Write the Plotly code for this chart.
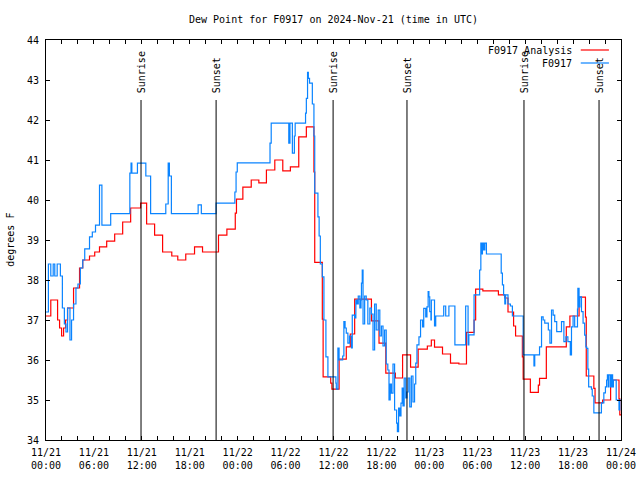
import pandas as pd
import plotly.graph_objects as go

START = pd.Timestamp("2024-11-21 00:00")

# F0917 Analysis (red) -- hours since 11/21 00:00 UTC, degrees F
red_hours = [0.0, 0.6, 1.45, 1.7, 1.95, 2.2, 2.45, 2.7, 3.45, 4.2, 4.6, 5.45, 6.1, 6.7, 7.6, 8.6, 9.6, 10.6,
             11.85, 12.6, 13.6, 14.6, 15.75, 16.5, 17.5, 18.6, 19.6, 21.6, 22.65, 23.7, 23.85, 24.65, 25.7,
             26.65, 27.6, 28.65, 29.65, 30.6, 31.65, 32.6, 33.55, 33.65, 34.6, 34.7, 35.65, 35.8, 36.7, 37.6,
             38.1, 38.65, 40.75, 41.7, 42.55, 43.75, 44.65, 45.65, 46.6, 47.75, 48.25, 48.65, 49.65, 50.65,
             51.7, 52.65, 53.6, 53.8, 54.7, 56.65, 57.45, 57.85, 58.55, 58.8, 59.65, 59.75, 60.65, 61.65,
             61.8, 62.65, 65.15, 65.6, 66.75, 67.55, 67.65, 68.6, 68.75, 69.7, 70.7, 71.75, 71.85, 72.0]
red_values = [37.1, 37.5, 37.0, 36.8, 36.6, 36.8, 37.0, 37.3, 37.8, 38.3, 38.5, 38.6, 38.7, 38.83, 38.97, 39.15,
              39.45, 39.8, 39.92, 39.4, 39.12, 38.7, 38.6, 38.5, 38.65, 38.83, 38.7, 39.12, 39.27, 39.67, 40.02,
              40.32, 40.5, 40.43, 40.75, 41.0, 40.73, 40.83, 41.58, 41.83, 40.7, 38.44, 37.02, 35.58, 35.42,
              35.27, 36.02, 36.33, 36.65, 37.52, 36.98, 36.42, 35.67, 35.55, 36.13, 35.82, 36.27, 36.35, 36.5,
              36.32, 36.15, 35.92, 35.9, 36.69, 37.0, 37.77, 37.73, 37.63, 37.55, 37.2, 36.85, 36.6, 36.08,
              35.52, 35.19, 35.37, 35.54, 36.33, 36.83, 37.1, 37.57, 37.07, 35.6, 35.29, 34.93, 35.0, 35.5,
              35.03, 34.63, 34.63]

# F0917 observations (blue)
blue_hours = [0.0, 0.3, 0.6, 0.9, 1.1, 1.4, 1.8, 2.05, 2.3, 2.5, 2.7, 3.0, 3.2, 3.45, 3.75, 4.0, 4.3, 4.6,
              4.85, 5.45, 5.8, 6.2, 6.7, 7.0, 8.1, 10.5, 10.65, 10.75, 11.45, 12.5, 13.1, 15.0, 15.3, 15.45,
              15.7, 19.05, 19.45, 21.3, 23.65, 23.8, 23.95, 28.05, 28.2, 30.4, 30.55, 30.85, 31.1, 31.2,
              32.5, 32.6, 32.75, 32.85, 33.0, 33.35, 33.55, 33.65, 34.05, 34.2, 34.35, 34.6, 34.8, 35.05,
              35.3, 36.3, 36.35, 36.55, 36.7, 37.15, 37.3, 37.45, 37.6, 37.8, 38.0, 38.25, 38.35, 38.65,
              38.8, 38.95, 39.1, 39.3, 39.45, 39.5, 39.6, 39.7, 39.9, 40.1, 40.3, 40.55, 40.75, 40.95,
              41.15, 41.35, 41.6, 41.8, 42.0, 42.2, 42.4, 42.6, 42.8, 42.95, 43.1, 43.25, 43.45, 43.65,
              43.9, 44.0, 44.15, 44.3, 44.45, 44.6, 44.7, 44.85, 45.05, 45.2, 45.35, 45.55, 45.75, 45.95,
              46.15, 46.3, 46.45, 46.7, 46.9, 47.15, 47.3, 47.55, 47.7, 47.85, 47.95, 48.05, 48.2, 48.25,
              48.65, 48.8, 49.8, 50.05, 50.45, 51.2, 52.55, 52.85, 52.95, 53.6, 54.3, 54.45, 54.5, 54.65,
              54.8, 54.95, 55.15, 57.0, 57.15, 57.3, 57.45, 57.55, 57.85, 58.15, 58.4, 59.75, 61.1, 61.2,
              61.8, 62.05, 62.25, 62.45, 62.9, 63.1, 63.3, 63.5, 63.7, 63.95, 64.55, 64.85, 65.1, 65.35,
              65.65, 65.8, 66.0, 66.2, 66.55, 66.6, 66.75, 66.85, 67.05, 67.25, 67.45, 67.6, 67.7, 67.85,
              67.95, 68.3, 68.4, 68.6, 69.55, 69.85, 70.05, 70.2, 70.3, 70.4, 70.5, 70.7, 70.85, 70.95,
              71.05, 71.4, 71.75, 71.85, 72.0]
blue_values = [37.2, 38.4, 38.1, 38.4, 38.1, 38.4, 38.1, 37.3, 36.9, 36.7, 37.3, 36.5, 37.0, 37.4, 37.8, 37.9,
               38.3, 38.5, 38.78, 39.08, 39.2, 39.37, 40.37, 39.37, 39.66, 40.67, 40.92, 40.67, 40.92, 40.6,
               39.66, 39.9, 40.92, 40.6, 39.66, 39.88, 39.66, 39.92, 40.2, 40.7, 40.93, 41.42, 41.92, 41.42,
               41.92, 41.17, 41.6, 41.92, 42.17, 42.54, 43.19, 43.04, 42.92, 42.4, 41.6, 40.17, 39.58, 39.1,
               38.4, 38.08, 37.0, 36.08, 35.58, 35.42, 35.27, 36.3, 36.0, 36.1, 36.96, 36.8, 36.67, 36.42,
               36.6, 36.3, 37.12, 37.05, 37.5, 37.4, 37.6, 37.3, 37.5, 37.92, 38.25, 36.9, 37.6, 37.5, 36.9,
               37.3, 37.15, 36.25, 37.4, 36.75, 37.25, 36.6, 36.85, 36.35, 36.75, 35.9, 35.75, 35.0, 35.4,
               35.17, 35.9, 34.75, 34.42, 34.21, 34.8, 34.6, 34.92, 35.3, 34.85, 35.55, 35.05, 35.2, 35.55,
               34.83, 35.6, 34.95, 35.4, 35.92, 36.38, 36.58, 37.0, 36.83, 37.29, 37.08, 37.33, 37.71, 37.58,
               37.21, 37.0, 37.5, 36.85, 37.1, 37.35, 37.1, 37.35, 36.38, 37.35, 36.38, 36.63, 37.63, 38.25,
               38.92, 38.65, 38.92, 38.75, 38.92, 38.65, 38.17, 37.88, 37.63, 37.4, 37.63, 37.4, 37.35, 37.1,
               36.13, 35.85, 36.13, 36.33, 37.08, 37.0, 36.92, 36.75, 36.42, 37.25, 37.12, 36.96, 36.71,
               36.96, 36.46, 36.58, 36.46, 36.13, 36.83, 37.1, 36.83, 37.27, 37.79, 37.33, 37.58, 37.21,
               36.92, 36.62, 36.33, 36.29, 35.77, 35.33, 35.27, 35.1, 34.68, 34.93, 35.18, 35.33, 35.5,
               35.63, 35.33, 35.63, 35.33, 35.63, 35.33, 35.5, 35.0, 34.75, 35.0, 35.0]

# Sunrise / sunset events (hours since start)
event_hours = [11.9, 21.3, 35.95, 45.2, 59.85, 69.25]
event_labels = ["Sunrise", "Sunset", "Sunrise", "Sunset", "Sunrise", "Sunset"]

assert len(red_hours) == len(red_values)
assert len(blue_hours) == len(blue_values)


def to_time(hours):
    return [START + pd.Timedelta(hours=h) for h in hours]


FONT = "DejaVu Sans Mono"
RED = "#ff0000"
BLUE = "#0a84ff"

fig = go.Figure()
fig.add_trace(go.Scatter(x=to_time(red_hours), y=red_values, mode="lines", line=dict(color=RED, width=1.2, shape="hv"),
                         name="F0917 Analysis", showlegend=False))
fig.add_trace(go.Scatter(x=to_time(blue_hours), y=blue_values, mode="lines", line=dict(color=BLUE, width=1.2, shape="hv"),
                         name="F0917", showlegend=False))

# vertical event lines with rotated labels
for h, lab in zip(event_hours, event_labels):
    t = START + pd.Timedelta(hours=h)
    fig.add_shape(type="line", xref="x", yref="paper", x0=t, x1=t, y0=0, y1=0.85,
                  line=dict(color="black", width=1))
    fig.add_annotation(x=t, xref="x", y=0.862, yref="paper", text=lab, textangle=-90, showarrow=False,
                       xanchor="center", yanchor="bottom", font=dict(family=FONT, size=10, color="black"))

# tick values every 2 hours, labelled every 6 hours
tick_times = [START + pd.Timedelta(hours=h) for h in range(0, 73, 2)]
tick_text = [(t.strftime("%m/%d") + "<br>" + t.strftime("%H:%M")) if t.hour % 6 == 0 else "" for t in tick_times]

fig.update_xaxes(range=[START, START + pd.Timedelta(hours=72)], tickvals=tick_times, ticktext=tick_text,
                 ticks="inside", ticklen=4, tickcolor="black", showline=True, linecolor="black", linewidth=1,
                 mirror="ticks", showgrid=False, zeroline=False, automargin=False, ticklabelstandoff=3,
                 tickfont=dict(family=FONT, size=10, color="black"))
fig.update_yaxes(range=[34, 44], dtick=1, ticks="inside", ticklen=4, tickcolor="black", showline=True,
                 linecolor="black", linewidth=1, mirror="ticks", showgrid=False, zeroline=False, automargin=False,
                 tickfont=dict(family=FONT, size=10, color="black"), ticklabelstandoff=4)

# manual gnuplot-style key
legend_items = [("F0917 Analysis", RED), ("F0917", BLUE)]
for i, (name, col) in enumerate(legend_items):
    yk = 1 - (10 + 13 * i) / 400
    fig.add_annotation(x=0.918, xref="paper", y=yk, yref="paper", text=name, showarrow=False,
                       xanchor="right", yanchor="middle", font=dict(family=FONT, size=10, color="black"))
    fig.add_shape(type="line", xref="paper", yref="paper", x0=0.930, x1=0.979, y0=yk, y1=yk,
                  line=dict(color=col, width=1.2))

fig.add_annotation(x=0.5, xref="paper", y=1.0525, yref="paper", text="Dew Point for F0917 on 2024-Nov-21 (time in UTC)",
                   showarrow=False, xanchor="center", yanchor="middle", font=dict(family=FONT, size=10, color="black"))
fig.add_annotation(x=-0.063, xref="paper", y=0.5, yref="paper", text="degrees F", textangle=-90, showarrow=False,
                   xanchor="center", yanchor="middle", font=dict(family=FONT, size=10, color="black"))

fig.update_layout(width=640, height=480, margin=dict(l=46, r=19, t=40, b=40, pad=0),
                  plot_bgcolor="white", paper_bgcolor="white", showlegend=False)

fig.write_html("out.html")
